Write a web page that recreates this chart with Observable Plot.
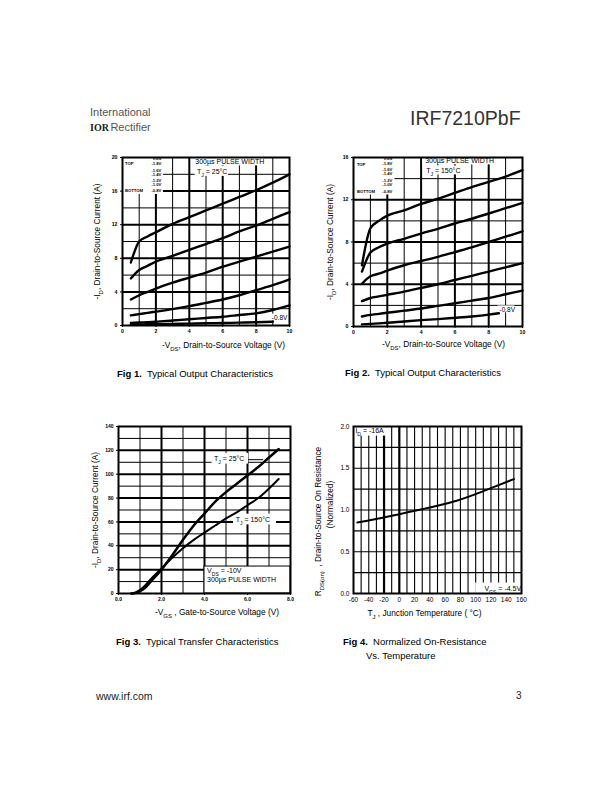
<!DOCTYPE html>
<html><head><meta charset="utf-8">
<script src="https://cdn.jsdelivr.net/npm/d3@7"></script>
<script src="https://cdn.jsdelivr.net/npm/@observablehq/plot@0.6"></script>
<style>
html,body{margin:0;padding:0;background:#fff;}
#page{position:relative;width:612px;height:792px;overflow:hidden;font-family:"Liberation Sans",Arial,Helvetica,sans-serif;color:#000;background:#fff;}
.t{position:absolute;white-space:nowrap;line-height:1;}
.chart{position:absolute;}
.chart svg{display:block;max-width:none;}
</style></head><body>
<div id="page">
  <div class="t" style="left:90px;top:106.5px;font-size:11px;color:#555;">International</div>
  <div class="t" style="left:90px;top:122px;font-size:11px;color:#555;"><span style="font-family:'Liberation Serif',serif;font-weight:bold;color:#222;font-size:10px;margin-right:1.5px;">IOR</span>Rectifier</div>
  <div class="t" style="left:410px;top:109px;font-size:19.5px;color:#333;">IRF7210PbF</div>

  <div class="t" style="left:117px;top:368.8px;font-size:9.5px;"><b>Fig 1.</b>&nbsp; Typical Output Characteristics</div>
  <div class="t" style="left:345px;top:368.3px;font-size:9.5px;"><b>Fig 2.</b>&nbsp; Typical Output Characteristics</div>
  <div class="t" style="left:116px;top:636.8px;font-size:9.5px;"><b>Fig 3.</b>&nbsp; Typical Transfer Characteristics</div>
  <div class="t" style="left:343px;top:637.3px;font-size:9.5px;"><b>Fig 4.</b>&nbsp; Normalized On-Resistance</div>
  <div class="t" style="left:366px;top:651px;font-size:9.5px;">Vs. Temperature</div>

  <div class="t" style="left:96px;top:691px;font-size:10.5px;color:#222;">www.irf.com</div>
  <div class="t" style="left:516px;top:691px;font-size:10px;color:#222;">3</div>

  <div id="c1" class="chart" style="left:85px;top:150px;"></div>
  <div id="c2" class="chart" style="left:318px;top:150px;"></div>
  <div id="c3" class="chart" style="left:85px;top:418px;"></div>
  <div id="c4" class="chart" style="left:305px;top:418px;"></div>
</div>
<script>
// ---------- DATA ----------
const vgsSteps = ["-1.8V", "-1.6V", "-1.4V", "-1.2V", "-1.0V", "-0.8V"];
const vdsPts = [0.5, 1, 1.5, 2, 3, 4, 5, 6, 7, 8, 9, 10];

// Fig 1 : TJ = 25°C, -ID (A) vs -VDS (V)
const fig1Id18 = [7.5, 10.0, 10.6, 11.1, 12.1, 12.9, 13.7, 14.5, 15.3, 16.1, 17.0, 18.0];
const fig1Id16 = [5.6, 6.6, 7.1, 7.6, 8.3, 9.0, 9.7, 10.4, 11.2, 11.9, 12.7, 13.5];
const fig1Id14 = [3.1, 3.6, 4.0, 4.4, 5.1, 5.7, 6.3, 7.0, 7.6, 8.2, 8.8, 9.4];
const fig1Id12 = [1.2, 1.35, 1.5, 1.65, 1.95, 2.3, 2.7, 3.1, 3.6, 4.2, 4.8, 5.5];
const fig1Id10 = [0.3, 0.35, 0.4, 0.45, 0.6, 0.75, 0.9, 1.05, 1.25, 1.45, 1.85, 2.4];
const fig1Vds08 = [0.5, 1, 1.5, 2, 3, 4, 5, 6, 7, 8, 9];
const fig1Id08 = [0.12, 0.13, 0.14, 0.16, 0.19, 0.22, 0.26, 0.3, 0.34, 0.39, 0.44];

// Fig 2 : TJ = 150°C
const fig2Id18 = [5.8, 9.3, 10.0, 10.5, 11.0, 11.6, 12.1, 12.65, 13.2, 13.7, 14.2, 14.8];
const fig2Id16 = [5.2, 7.0, 7.5, 7.85, 8.3, 8.8, 9.25, 9.75, 10.2, 10.7, 11.2, 11.7];
const fig2Id14 = [4.05, 4.75, 5.0, 5.3, 5.8, 6.2, 6.6, 7.05, 7.5, 8.0, 8.5, 9.0];
const fig2Id12 = [2.4, 2.7, 2.85, 3.0, 3.3, 3.65, 4.0, 4.4, 4.8, 5.2, 5.6, 6.0];
const fig2Id10 = [0.95, 1.1, 1.2, 1.3, 1.5, 1.7, 1.95, 2.2, 2.45, 2.7, 3.05, 3.4];
const fig2Vds08 = [0.5, 1, 1.5, 2, 3, 4, 5, 6, 7, 8, 8.6];
const fig2Id08 = [0.2, 0.25, 0.3, 0.35, 0.48, 0.6, 0.7, 0.82, 0.95, 1.12, 1.25];

// Fig 3 : transfer characteristics, -ID (A) vs -VGS (V)
const fig3Vgs = [0.6, 0.8, 1.0, 1.25, 1.5, 2.0, 2.5, 3.0, 3.5, 4.0, 4.5, 5.0, 5.5, 6.0, 6.5, 7.0, 7.45];
const fig3Id25 = [0, 0.5, 2, 5, 10, 20, 32, 45, 57, 67, 77, 85, 92, 99, 106, 114, 121];
const fig3Id150 = [0, 1, 3, 7, 12, 21, 30, 38, 45, 51, 57, 63, 68, 74, 80, 88, 96];

// Fig 4 : normalized RDS(on) vs TJ
const fig4Tj = [-55, -40, -20, 0, 25, 50, 75, 100, 125, 150];
const fig4Rds = [0.85, 0.875, 0.91, 0.95, 1.0, 1.05, 1.11, 1.19, 1.28, 1.37];

// tick labels
const fig1YTicks = [0, 4, 8, 12, 16, 20];
const fig2YTicks = [0, 4, 8, 12, 16];
const vdsTicks = [0, 2, 4, 6, 8, 10];
const fig3XTicks = [0, 2, 4, 6, 8];
const fig3YTicks = [0, 20, 40, 60, 80, 100, 120, 140];
const fig4XTicks = [-60, -40, -20, 0, 20, 40, 60, 80, 100, 120, 140, 160];
const fig4YTicks = [0, 0.5, 1.0, 1.5, 2.0];

// ---------- HELPERS ----------
const FONT = "'Liberation Sans', Arial, Helvetica, sans-serif";
const plain = d => String(d);
const fixed1 = d => d.toFixed(1);
function rows(xs, ys, name) {
  return ys.map((y, i) => ({x: xs[i], y, s: name})).filter(d => d.y != null);
}
function subify(root) {
  root.querySelectorAll("text").forEach(t => {
    if (t.querySelector("tspan")) return;
    const s = t.textContent;
    if (!s.includes("_{")) return;
    t.textContent = "";
    const re = /_\{([^}]*)\}/g;
    let last = 0, m;
    const add = (str, sub) => {
      const ts = document.createElementNS("http://www.w3.org/2000/svg", "tspan");
      ts.textContent = str;
      if (sub) { ts.setAttribute("font-size", "72%"); ts.setAttribute("baseline-shift", "sub"); }
      t.appendChild(ts);
    };
    while ((m = re.exec(s))) {
      if (m.index > last) add(s.slice(last, m.index), false);
      add(m[1], true);
      last = re.lastIndex;
    }
    if (last < s.length) add(s.slice(last), false);
  });
}
const txt = (data, opts) => Plot.text(data, {x: "x", y: "y", text: "t", ...opts});
const boxes = (data, opts = {}) => Plot.rect(data, {x1: "x1", x2: "x2", y1: "y1", y2: "y2", fill: "white", ...opts});

function outputChart(cfg) {
  const marks = [
    Plot.ruleX([1, 3, 5, 7, 9], {strokeWidth: 1}),
    Plot.ruleX([2, 4, 6, 8], {strokeWidth: 2}),
    Plot.ruleY(cfg.thinY, {strokeWidth: 1}),
    Plot.ruleY(cfg.thickY, {strokeWidth: 2}),
    boxes(cfg.whiteBoxes),
    Plot.line(cfg.series, {x: "x", y: "y", z: "s", stroke: "black", strokeWidth: 2.4, curve: "monotone-x"}),
    Plot.frame({strokeWidth: 2}),
    Plot.axisX({ticks: vdsTicks, tickFormat: plain, tickSize: 2, tickPadding: 2, fontSize: 5.2, fontWeight: "bold", label: null}),
    Plot.axisY({ticks: cfg.yTicks, tickFormat: plain, tickSize: 2, tickPadding: 3, fontSize: 5.2, fontWeight: "bold", label: null}),
    // legend
    txt(cfg.legendLeft, {textAnchor: "start", fontSize: 4.2, fontWeight: "bold"}),
    txt(cfg.legendRight, {textAnchor: "end", fontSize: 4.2, fontWeight: "bold"}),
    txt(cfg.notes, {textAnchor: "start", fontSize: 7}),
    txt(cfg.lowLabel, {textAnchor: "start", fontSize: 6.5}),
    Plot.text([cfg.xTitle], {frameAnchor: "bottom", dx: cfg.xTitleDx, dy: cfg.xTitleDy, lineAnchor: "middle", textAnchor: "middle", fontSize: 8.3}),
    Plot.text([cfg.yTitle], {frameAnchor: "left", dx: cfg.yTitleDx, rotate: -90, lineAnchor: "middle", textAnchor: "middle", fontSize: 8.3})
  ];
  const p = Plot.plot({
    width: 214, height: cfg.height,
    marginLeft: cfg.marginLeft, marginRight: 10, marginTop: 7, marginBottom: 28,
    x: {domain: [0, 10]}, y: {domain: [0, cfg.yMax]},
    style: {fontFamily: FONT, background: "white", color: "black", overflow: "visible"},
    marks
  });
  subify(p);
  return p;
}

// ---------- FIG 1 ----------
const fig1Series = [
  ...rows(vdsPts, fig1Id18, vgsSteps[0]), ...rows(vdsPts, fig1Id16, vgsSteps[1]),
  ...rows(vdsPts, fig1Id14, vgsSteps[2]), ...rows(vdsPts, fig1Id12, vgsSteps[3]),
  ...rows(vdsPts, fig1Id10, vgsSteps[4]), ...rows(fig1Vds08, fig1Id08, vgsSteps[5])
];
document.getElementById("c1").append(outputChart({
  series: fig1Series, yMax: 20, yTicks: fig1YTicks, height: 203, marginLeft: 37,
  thinY: [2, 6, 10, 14, 18], thickY: [4, 8, 12, 16],
  whiteBoxes: [
    {x1: 0.03, x2: 2.45, y1: 15.6, y2: 19.95},
    {x1: 4.2, x2: 8.6, y1: 19.0, y2: 19.95},
    {x1: 4.35, x2: 6.35, y1: 17.75, y2: 18.95},
    {x1: 8.85, x2: 9.8, y1: 0.58, y2: 1.35}
  ],
  legendLeft: [{x: 0.15, y: 19.25, t: "TOP"}, {x: 0.15, y: 16.0, t: "BOTTOM"}],
  legendRight: [{x: 2.33, y: 19.84, t: "VGS"},
    {x: 2.33, y: 19.3, t: vgsSteps[0]}, {x: 2.33, y: 18.45, t: vgsSteps[1]}, {x: 2.33, y: 17.95, t: vgsSteps[2]},
    {x: 2.33, y: 17.25, t: vgsSteps[3]}, {x: 2.33, y: 16.75, t: vgsSteps[4]}, {x: 2.33, y: 16.0, t: vgsSteps[5]}],
  notes: [{x: 4.36, y: 19.55, t: "300µs PULSE WIDTH"}, {x: 4.46, y: 18.3, t: "T_{J} = 25°C"}],
  lowLabel: [{x: 8.94, y: 0.95, t: "-0.8V"}],
  xTitle: "-V_{DS}, Drain-to-Source Voltage (V)", xTitleDx: 17.5, xTitleDy: 20,
  yTitle: "-I_{D}, Drain-to-Source Current (A)", yTitleDx: -25
}));

// ---------- FIG 2 ----------
const fig2Series = [
  ...rows(vdsPts, fig2Id18, vgsSteps[0]), ...rows(vdsPts, fig2Id16, vgsSteps[1]),
  ...rows(vdsPts, fig2Id14, vgsSteps[2]), ...rows(vdsPts, fig2Id12, vgsSteps[3]),
  ...rows(vdsPts, fig2Id10, vgsSteps[4]), ...rows(fig2Vds08, fig2Id08, vgsSteps[5])
];
document.getElementById("c2").append(outputChart({
  series: fig2Series, yMax: 16, yTicks: fig2YTicks, height: 204, marginLeft: 35,
  thinY: [2, 6, 10, 14], thickY: [4, 8, 12],
  whiteBoxes: [
    {x1: 0.03, x2: 2.45, y1: 12.45, y2: 15.95},
    {x1: 4.1, x2: 8.4, y1: 15.3, y2: 15.95},
    {x1: 4.2, x2: 6.5, y1: 14.35, y2: 15.2},
    {x1: 8.55, x2: 9.55, y1: 1.3, y2: 1.95}
  ],
  legendLeft: [{x: 0.2, y: 15.3, t: "TOP"}, {x: 0.2, y: 12.75, t: "BOTTOM"}],
  legendRight: [{x: 2.3, y: 15.86, t: "VGS"},
    {x: 2.3, y: 15.44, t: vgsSteps[0]}, {x: 2.3, y: 14.85, t: vgsSteps[1]}, {x: 2.3, y: 14.44, t: vgsSteps[2]},
    {x: 2.3, y: 13.82, t: vgsSteps[3]}, {x: 2.3, y: 13.41, t: vgsSteps[4]}, {x: 2.3, y: 12.75, t: vgsSteps[5]}],
  notes: [{x: 4.24, y: 15.65, t: "300µs PULSE WIDTH"}, {x: 4.3, y: 14.75, t: "T_{J} = 150°C"}],
  lowLabel: [{x: 8.64, y: 1.6, t: "-0.8V"}],
  xTitle: "-V_{DS}, Drain-to-Source Voltage (V)", xTitleDx: 5.5, xTitleDy: 18,
  yTitle: "-I_{D}, Drain-to-Source Current (A)", yTitleDx: -23
}));

// ---------- FIG 3 ----------
{
  const d25 = rows(fig3Vgs, fig3Id25, "25");
  const d150 = rows(fig3Vgs, fig3Id150, "150");
  const p = Plot.plot({
    width: 215, height: 203,
    marginLeft: 33, marginRight: 10, marginTop: 8, marginBottom: 28,
    x: {domain: [0, 8]}, y: {domain: [0, 140]},
    style: {fontFamily: FONT, background: "white", color: "black", overflow: "visible"},
    marks: [
      Plot.ruleX([1, 3, 5, 7], {strokeWidth: 1}),
      Plot.ruleX([2, 4, 6], {strokeWidth: 2}),
      Plot.ruleY([10, 30, 50, 70, 90, 110, 130], {strokeWidth: 1}),
      Plot.ruleY([20, 40, 60, 80, 100, 120], {strokeWidth: 2}),
      boxes([{x1: 4.0, x2: 8, y1: 0, y2: 22.6}], {stroke: "black", strokeWidth: 1}),
      boxes([{x1: 4.35, x2: 6.05, y1: 108.5, y2: 117.5}, {x1: 5.35, x2: 7.35, y1: 57.5, y2: 66.5}]),
      Plot.ruleY([112.2], {x1: 6.05, x2: 6.75, strokeWidth: 1}),
      Plot.line(d25, {x: "x", y: "y", stroke: "black", strokeWidth: 2.5, curve: "monotone-x"}),
      Plot.line(d150, {x: "x", y: "y", stroke: "black", strokeWidth: 2, curve: "monotone-x"}),
      Plot.frame({strokeWidth: 2}),
      Plot.axisX({ticks: fig3XTicks, tickFormat: fixed1, tickSize: 2, tickPadding: 2, fontSize: 5, fontWeight: "bold", label: null}),
      Plot.axisY({ticks: fig3YTicks, tickFormat: plain, tickSize: 2, tickPadding: 3, fontSize: 5, fontWeight: "bold", label: null}),
      txt([{x: 4.44, y: 112.7, t: "T_{J} = 25°C"}, {x: 5.45, y: 62, t: "T_{J} = 150°C"}], {textAnchor: "start", fontSize: 7}),
      txt([{x: 4.12, y: 19.3, t: "V_{DS} = -10V"}, {x: 4.12, y: 11.4, t: "300µs PULSE WIDTH"}], {textAnchor: "start", fontSize: 7}),
      Plot.text(["-V_{GS} , Gate-to-Source Voltage (V)"], {frameAnchor: "bottom", dx: 12.5, dy: 19, lineAnchor: "middle", textAnchor: "middle", fontSize: 8.3}),
      Plot.text(["-I_{D}, Drain-to-Source Current (A)"], {frameAnchor: "left", dx: -23, rotate: -90, lineAnchor: "middle", textAnchor: "middle", fontSize: 8.3})
    ]
  });
  subify(p);
  document.getElementById("c3").append(p);
}

// ---------- FIG 4 ----------
{
  const d = rows(fig4Tj, fig4Rds, "rds");
  const p = Plot.plot({
    width: 228, height: 203,
    marginLeft: 48, marginRight: 12, marginTop: 8, marginBottom: 28,
    x: {domain: [-60, 160]}, y: {domain: [0, 2]},
    style: {fontFamily: FONT, background: "white", color: "black", overflow: "visible"},
    marks: [
      Plot.ruleX([-50, -40, -30, -10, 10, 20, 30, 40, 50, 60, 70, 80, 90, 100, 110, 120, 130, 140, 150], {strokeWidth: 1.1}),
      Plot.ruleX([-20, 0], {strokeWidth: 2.2}),
      Plot.ruleY([0.25, 0.5, 0.75, 1.0, 1.25, 1.5, 1.75], {strokeWidth: 1.2}),
      boxes([{x1: -60, x2: -16, y1: 1.885, y2: 2}, {x1: 100, x2: 160, y1: 0, y2: 0.125}]),
      Plot.line(d, {x: "x", y: "y", stroke: "black", strokeWidth: 2, curve: "monotone-x"}),
      Plot.frame({strokeWidth: 2}),
      Plot.axisX({ticks: fig4XTicks, tickFormat: plain, tickSize: 0, tickPadding: 4, fontSize: 6.5, label: null}),
      Plot.axisY({ticks: fig4YTicks, tickFormat: fixed1, tickSize: 0, tickPadding: 4, fontSize: 6.5, label: null}),
      txt([{x: -57.5, y: 1.945, t: "I_{D} = -16A"}], {textAnchor: "start", fontSize: 7}),
      txt([{x: 159.5, y: 0.06, t: "V_{GS} = -4.5V"}], {textAnchor: "end", fontSize: 7}),
      Plot.text(["T_{J} , Junction Temperature ( °C)"], {frameAnchor: "bottom", dx: -13, dy: 20, lineAnchor: "middle", textAnchor: "middle", fontSize: 8.3}),
      Plot.text(["R_{DS(on)}  , Drain-to-Source On Resistance"], {frameAnchor: "left", dx: -35, dy: 11.5, rotate: -90, lineAnchor: "middle", textAnchor: "middle", fontSize: 8.3}),
      Plot.text(["(Normalized)"], {frameAnchor: "left", dx: -23, dy: -5.5, rotate: -90, lineAnchor: "middle", textAnchor: "middle", fontSize: 8.3})
    ]
  });
  subify(p);
  document.getElementById("c4").append(p);
}
</script>
</body></html>
